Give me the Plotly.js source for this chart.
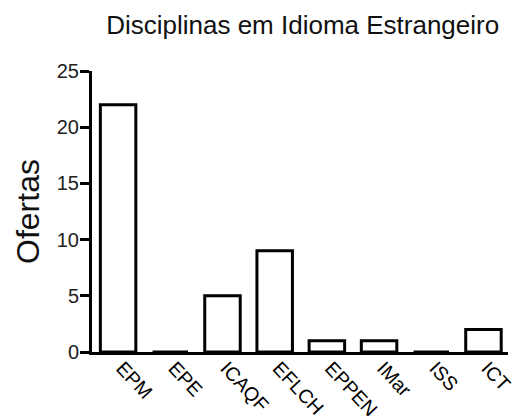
<!DOCTYPE html>
<html>
<head>
<meta charset="utf-8">
<script src="https://cdn.plot.ly/plotly-3.0.1.min.js"></script>
<style>html,body{margin:0;padding:0;background:#fff;}#chart{width:513px;height:416px;}</style>
</head>
<body>
<div id="chart"></div>
<script>
var categories = ["EPM", "EPE", "ICAQF", "EFLCH", "EPPEN", "IMar", "ISS", "ICT"];
var ofertas = [22, 0, 5, 9, 1, 1, 0, 2];
var yTickValues = [0, 5, 10, 15, 20, 25];

var font = "Liberation Sans, Arial, sans-serif";
var trace = {
  type: "bar",
  x: categories,
  y: ofertas,
  marker: {color: "#ffffff", line: {color: "#000000", width: 3}},
  width: 0.68,
  hoverinfo: "none"
};
var layout = {
  width: 513, height: 416,
  margin: {l: 92, r: 5, t: 71, b: 64},
  paper_bgcolor: "#ffffff", plot_bgcolor: "#ffffff",
  showlegend: false,
  font: {family: font, color: "#000"},
  title: {text: "Disciplinas em Idioma Estrangeiro", font: {family: font, size: 26, color: "#111"},
          x: 0.59, xanchor: "center", y: 0.94, yanchor: "middle", yref: "container"},
  xaxis: {
    type: "category",
    range: [-0.5, 7.47],
    showline: true, linewidth: 3, linecolor: "#000",
    ticks: "", tickangle: 47,
    ticklabelshift: 4, ticklabelstandoff: -6,
    tickfont: {family: font, size: 19.5, color: "#000"},
    showgrid: false, zeroline: false, automargin: false
  },
  yaxis: {
    range: [0, 25],
    tickvals: yTickValues,
    showline: true, linewidth: 3, linecolor: "#000",
    ticks: "outside", ticklen: 9, tickwidth: 3, tickcolor: "#000",
    ticklabelstandoff: -3,
    tickfont: {family: font, size: 20, color: "#222"},
    showgrid: false, zeroline: false, automargin: false,
    title: {text: "Ofertas", font: {family: font, size: 32, color: "#111"}, standoff: 8}
  }
};
Plotly.newPlot("chart", [trace], layout, {staticPlot: true, displayModeBar: false});
</script>
</body>
</html>
